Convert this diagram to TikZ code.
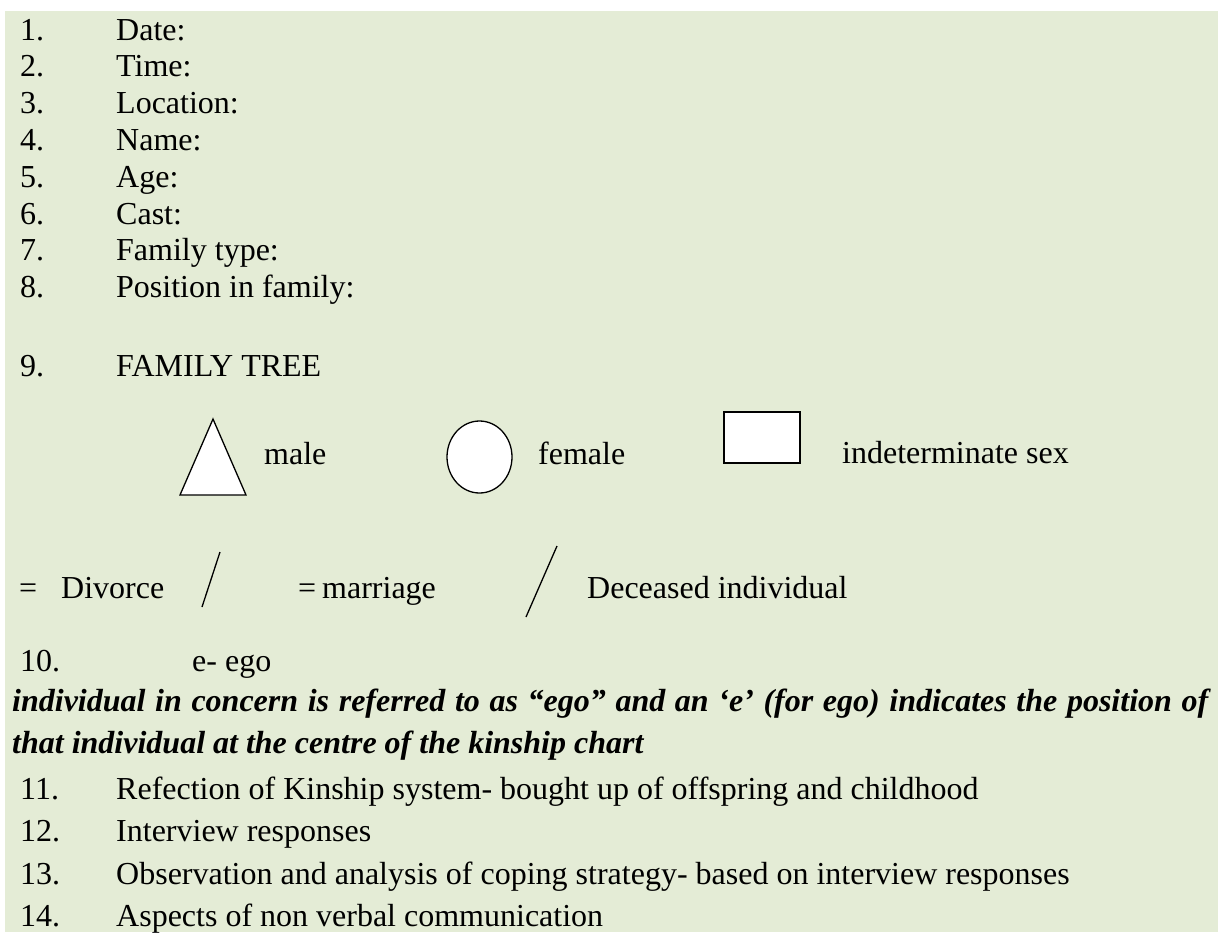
\documentclass[tikz,border=0pt]{standalone}
\usepackage{fontspec}
\setmainfont{Liberation Serif}
\definecolor{sheet}{RGB}{228,236,214}

\begin{document}
\begin{tikzpicture}[x=1pt, y=-1pt,
  every node/.style={inner sep=0pt, anchor=base west,
    font=\fontsize{32pt}{36.8pt}\selectfont},
  emph/.style={font=\fontsize{32pt}{36.8pt}\selectfont\bfseries\itshape},
  sym/.style={draw, fill=white, line width=1.3pt},
  slash/.style={line width=1.3pt}]

  \useasboundingbox (0,0) rectangle (1218,932);
  \fill[white] (0,0) rectangle (1218,932);
  \fill[sheet] (5,11) rectangle (1218,932);

  % header fields
  \node (n1) at (20,40)    {1.}; \node (date)  at (116,40)    {Date:};
  \node (n2) at (20,76.8)  {2.}; \node (time)  at (116,76.8)  {Time:};
  \node (n3) at (20,113.6) {3.}; \node (loc)   at (116,113.6) {Location:};
  \node (n4) at (20,150.4) {4.}; \node (name)  at (116,150.4) {Name:};
  \node (n5) at (20,187.2) {5.}; \node (age)   at (116,187.2) {Age:};
  \node (n6) at (20,224)   {6.}; \node (cast)  at (116,224)   {Cast:};
  \node (n7) at (20,260.8) {7.}; \node (ftype) at (116,260.8) {Family type:};
  \node (n8) at (20,297.6) {8.}; \node (fpos)  at (116,297.6) {Position in family:};
  \node (n9) at (20,376)   {9.}; \node (tree)  at (116,376)   {FAMILY TREE};

  % legend: symbols
  \coordinate (T1) at (213,419);
  \coordinate (T2) at (180,495);
  \coordinate (T3) at (246,495);
  \draw[sym, line join=miter] (T1) -- (T2) -- (T3) -- cycle;
  \draw[sym] (479.5,457) ellipse [x radius=32.5, y radius=36];
  \draw[sym] (724,412) rectangle (800,463);
  \node (male)   at (264,464) {male};
  \node (female) at (538,464) {female};
  \node (indet)  at (842,463) {indeterminate sex};

  % legend: lines
  \node (eq1)  at (19,598)  {=};
  \node (div)  at (61,598)  {Divorce};
  \draw[slash] (220,552) -- (202,607);
  \node (eq2)  at (298,598) {=};
  \node (mar)  at (322,598) {marriage};
  \draw[slash] (557,546) -- (526,617);
  \node (dec)  at (587,598) {Deceased individual};

  % ego
  \node (n10) at (20,671)  {10.};
  \node (ego) at (192,671) {e- ego};
  \node[emph] (ego1) at (12,711)
    {\makebox[1196pt][s]{individual in concern is referred to as “ego” and an ‘e’ (for ego) indicates the position of}};
  \node[emph] (ego2) at (12,753)
    {that individual at the centre of the kinship chart};

  % remaining items
  \node (n11) at (20,799) {11.}; \node (kin)   at (116,799) {Refection of Kinship system- bought up of offspring and childhood};
  \node (n12) at (20,841) {12.}; \node (resp)  at (116,841) {Interview responses};
  \node (n13) at (20,884) {13.}; \node (obs)   at (116,884) {Observation and analysis of coping strategy- based on interview responses};
  \node (n14) at (20,926) {14.}; \node (nonv)  at (116,926) {Aspects of non verbal communication};
\end{tikzpicture}
\end{document}
